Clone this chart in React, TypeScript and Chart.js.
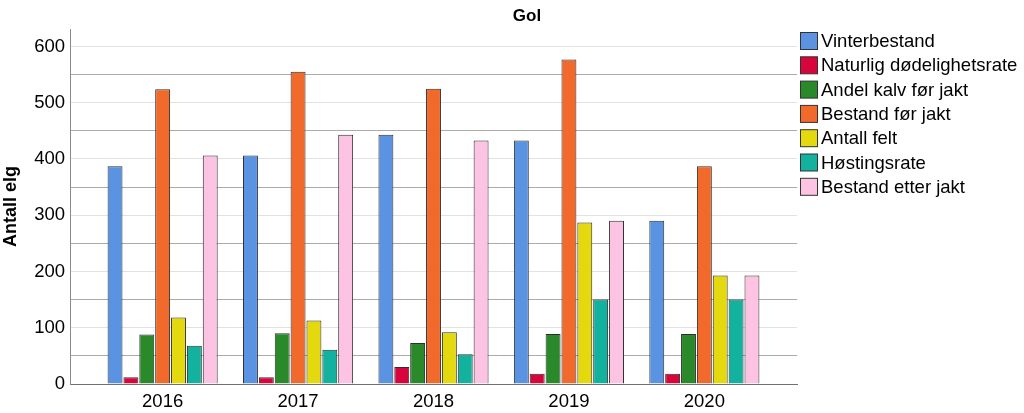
import React, { useEffect, useRef } from "react";
import { Chart, registerables } from "chart.js";

Chart.register(...registerables);

const years = [2016, 2017, 2018, 2019, 2020];
const seriesNames = [
  "Vinterbestand",
  "Naturlig dødelighetsrate",
  "Andel kalv før jakt",
  "Bestand før jakt",
  "Antall felt",
  "Høstingsrate",
  "Bestand etter jakt",
];
const vinterbestand = [387, 406, 443, 433, 290];
const naturligDodelighet = [12, 12, 30, 18, 18];
const andelKalv = [88, 90, 73, 89, 89];
const bestandForJakt = [524, 555, 525, 577, 387];
const antallFelt = [118, 113, 92, 287, 193];
const hostingsrate = [68, 61, 53, 150, 150];
const bestandEtterJakt = [406, 443, 433, 290, 193];
const seriesValues = [
  vinterbestand,
  naturligDodelighet,
  andelKalv,
  bestandForJakt,
  antallFelt,
  hostingsrate,
  bestandEtterJakt,
];
const colors = ["#5b93e3", "#d8043c", "#2a8a2a", "#f1692b", "#e4d80e", "#12b29e", "#fcc3e3"];
const chartTitle = "Gol";
const yTitle = "Antall elg";

const FONT = "'Liberation Sans', Arial, sans-serif";

const overlayPlugin = {
  id: "overlay",
  afterDraw(chart: any) {
    const ctx = chart.ctx;
    ctx.save();
    // title
    ctx.fillStyle = "#000";
    ctx.font = `bold 17px ${FONT}`;
    ctx.textAlign = "center";
    ctx.textBaseline = "middle";
    ctx.fillText(chartTitle, 527, 16);
    // legend
    const x0 = chart.chartArea.right + 3;
    ctx.font = `18.5px ${FONT}`;
    ctx.textAlign = "left";
    seriesNames.forEach((name, i) => {
      const y = 32 + i * 24.3;
      ctx.fillStyle = colors[i];
      ctx.fillRect(x0 + 0.5, y + 0.5, 17, 17);
      ctx.strokeStyle = "#333";
      ctx.lineWidth = 1;
      ctx.strokeRect(x0 + 0.5, y + 0.5, 17, 17);
      ctx.fillStyle = "#000";
      ctx.fillText(name, x0 + 21, y + 10);
    });
    ctx.restore();
  },
};

export default function App() {
  const ref = useRef<HTMLCanvasElement>(null);
  useEffect(() => {
    document.body.style.margin = "0";
    const canvas = ref.current!;
    const chart = new Chart(canvas, {
      type: "bar",
      data: {
        datasets: seriesNames.map((name, i) => ({
          label: name,
          data: years.map((yr, j) => ({ x: yr, y: seriesValues[i][j] })),
          backgroundColor: colors[i],
          borderColor: "#2e2e2e",
          borderWidth: 1,
          categoryPercentage: 0.82,
          barPercentage: 0.94,
        })),
      },
      options: {
        animation: false,
        responsive: false,
        maintainAspectRatio: false,
        layout: { padding: { top: 29, right: 227, left: 0, bottom: 0 } },
        font: { family: FONT },
        plugins: {
          legend: { display: false },
          title: { display: false },
          tooltip: { enabled: false },
        },
        scales: {
          x: {
            type: "linear",
            offset: false,
            min: years[0] - 0.684,
            max: years[years.length - 1] + 0.684,
            grid: { display: false, drawTicks: false, offset: false },
            border: { display: true, color: "#707070", width: 1 },
            ticks: {
              stepSize: 1,
              includeBounds: false,
              padding: 7,
              color: "#000",
              font: { family: FONT, size: 18.5 },
              callback: (v: any) => (Number.isInteger(v) ? String(v) : ""),
            },
            afterFit: (s: any) => {
              s.height = 29;
            },
          },
          y: {
            type: "linear",
            min: 0,
            max: 631,
            grid: {
              drawTicks: false,
              color: (c: any) => (c.tick && c.tick.value % 100 === 0 ? "#e2e2e2" : "#ababab"),
              lineWidth: 1,
            },
            border: { display: true, color: "#8a8a8a", width: 1 },
            ticks: {
              stepSize: 50,
              includeBounds: false,
              padding: 5,
              color: "#000",
              font: { family: FONT, size: 18.5 },
              callback: (v: any) => (v % 100 === 0 ? String(v) : ""),
            },
            title: {
              display: true,
              text: yTitle,
              color: "#000",
              font: { family: FONT, size: 18, weight: "bold" },
              padding: 0,
            },
            afterFit: (s: any) => {
              s.width = 70;
            },
          },
        },
      },
      plugins: [overlayPlugin],
    });
    return () => chart.destroy();
  }, []);
  return (
    <div style={{ width: 1024, height: 413 }}>
      <canvas ref={ref} width={1024} height={413} style={{ display: "block" }} />
    </div>
  );
}
